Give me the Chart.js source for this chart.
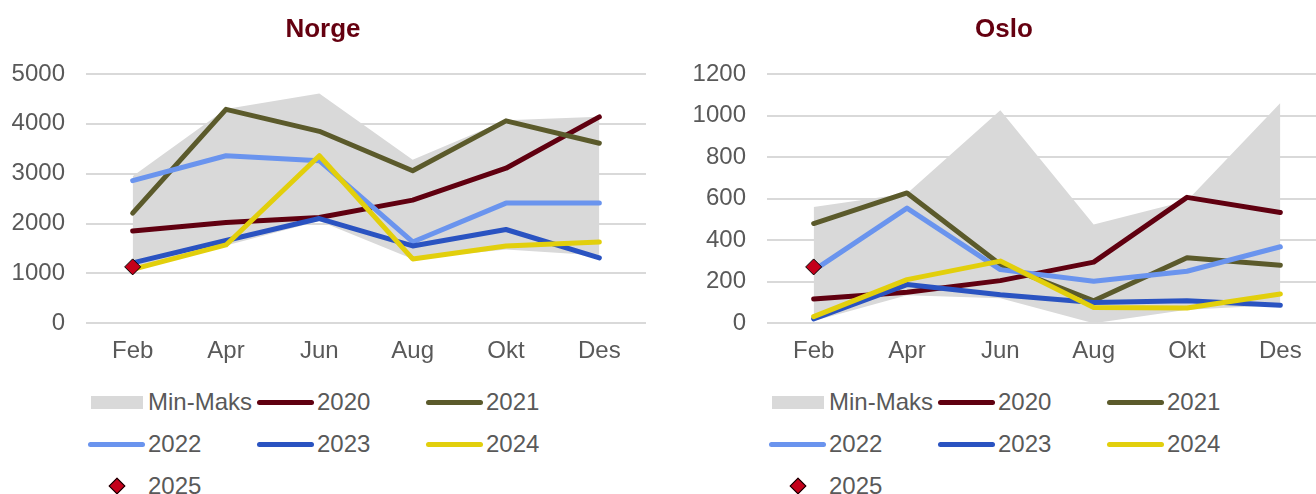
<!DOCTYPE html>
<html>
<head>
<meta charset="utf-8">
<script src="https://cdn.jsdelivr.net/npm/chart.js@4"></script>
<style>
  html, body { margin: 0; padding: 0; background: #fff; }
  body { width: 1316px; height: 494px; overflow: hidden; position: relative; font-family: "Liberation Sans", Arial, sans-serif; }
  .panel { position: absolute; top: 0; width: 674px; height: 494px; }
  .panel canvas { position: absolute; left: 0; top: 0; }
  .legend { position: absolute; left: 88px; top: 381px; width: 510px; display: grid; grid-template-columns: 169px 169px 169px; grid-auto-rows: 42px; }
  .item { display: flex; align-items: center; color: #595959; font-size: 24px; white-space: nowrap; }
  .sw { width: 60px; height: 20px; position: relative; flex: none; }
  .sw .line { position: absolute; left: 0; top: 8px; width: 57px; height: 5px; border-radius: 3px; }
  .sw .box { position: absolute; left: 3px; top: 4px; width: 52px; height: 13px; }
  .sw .dia { position: absolute; left: 23px; top: 4px; width: 10px; height: 10px; transform: rotate(45deg); border: 1px solid #000; }
</style>
</head>
<body>
<div class="panel" id="p-norge" style="left:0"><canvas id="c-norge" width="674" height="380"></canvas><div class="legend" id="l-norge"></div></div>
<div class="panel" id="p-oslo" style="left:681px"><canvas id="c-oslo" width="674" height="380"></canvas><div class="legend" id="l-oslo"></div></div>
<script>
Chart.defaults.font.family = "'Liberation Sans', Arial, sans-serif";
Chart.defaults.color = "#595959";

const months = ["Feb", "Apr", "Jun", "Aug", "Okt", "Des"];
const years = ["2020", "2021", "2022", "2023", "2024"];

// Norge
const norgeMin = [1100, 1560, 2050, 1290, 1480, 1360];
const norgeMax = [2950, 4300, 4610, 3280, 4070, 4140];
const norge2020 = [1850, 2020, 2120, 2470, 3110, 4140];
const norge2021 = [2210, 4290, 3850, 3060, 4060, 3610];
const norge2022 = [2860, 3360, 3260, 1630, 2410, 2410];
const norge2023 = [1210, 1660, 2100, 1550, 1880, 1310];
const norge2024 = [1080, 1570, 3360, 1290, 1550, 1630];
const norge2025 = [1130, null, null, null, null, null];
const norgeTicks = { max: 5000, step: 1000 };

// Oslo
const osloMin = [10, 135, 120, 0, 65, 88];
const osloMax = [560, 625, 1025, 475, 590, 1060];
const oslo2020 = [116, 149, 205, 294, 606, 533];
const oslo2021 = [480, 627, 283, 108, 315, 279];
const oslo2022 = [254, 554, 258, 202, 250, 368];
const oslo2023 = [21, 186, 137, 100, 108, 86];
const oslo2024 = [32, 210, 299, 76, 73, 141];
const oslo2025 = [271, null, null, null, null, null];
const osloTicks = { max: 1200, step: 200 };

const yearColors = ["#600010", "#5b5a2b", "#6a94ee", "#2a53c1", "#e2cf0c"];
const fillColor = "#d9d9d9";
const markerColor = "#c4001a";

function makeChart(canvasId, legendId, title, minArr, maxArr, series, last, ticks) {
  const datasets = [
    { label: "Min-Maks", data: maxArr, fill: "+1", backgroundColor: fillColor, borderWidth: 0, pointRadius: 0, order: 20 },
    { label: "min", data: minArr, fill: false, borderWidth: 0, pointRadius: 0, order: 21 },
  ];
  series.forEach((d, i) => {
    datasets.push({
      label: years[i], data: d, borderColor: yearColors[i], backgroundColor: yearColors[i],
      borderWidth: 5, pointRadius: 0, tension: 0, borderCapStyle: "round", borderJoinStyle: "round",
      fill: false, order: 10 - i,
    });
  });
  datasets.push({
    label: "2025", data: last, showLine: false, pointStyle: "rectRot", pointRadius: 8,
    pointBackgroundColor: markerColor, pointBorderColor: "#000", pointBorderWidth: 1, order: 0,
  });

  new Chart(document.getElementById(canvasId), {
    type: "line",
    data: { labels: months, datasets },
    options: {
      responsive: false,
      animation: false,
      layout: { padding: { left: 0, right: 28, top: 0, bottom: 0 } },
      plugins: {
        legend: { display: false },
        tooltip: { enabled: false },
        filler: { drawTime: "beforeDatasetsDraw" },
        title: {
          display: true, text: title, color: "#650010",
          font: { size: 26, weight: "bold" }, padding: { top: 14, bottom: 28.8 },
        },
      },
      scales: {
        x: {
          offset: true,
          grid: { display: false, drawTicks: false },
          border: { display: false },
          ticks: { font: { size: 24 }, padding: 14, color: "#595959" },
        },
        y: {
          min: 0, max: ticks.max,
          grid: { color: "#d9d9d9", lineWidth: 2, drawTicks: false },
          border: { display: false },
          ticks: { stepSize: ticks.step, font: { size: 24 }, padding: 21, color: "#595959",
            callback: (v) => String(v) },
          afterFit: (scale) => { scale.width = 86; },
        },
      },
    },
  });

  // HTML legend built from the same labels/colours
  const leg = document.getElementById(legendId);
  const entries = [{ label: "Min-Maks", kind: "box", color: fillColor }]
    .concat(years.map((y, i) => ({ label: y, kind: "line", color: yearColors[i] })))
    .concat([{ label: "2025", kind: "dia", color: markerColor }]);
  entries.forEach((e) => {
    const item = document.createElement("div");
    item.className = "item";
    const sw = document.createElement("div");
    sw.className = "sw";
    const mark = document.createElement("div");
    mark.className = e.kind;
    mark.style.background = e.color;
    sw.appendChild(mark);
    const txt = document.createElement("span");
    txt.textContent = e.label;
    item.appendChild(sw);
    item.appendChild(txt);
    leg.appendChild(item);
  });
}

makeChart("c-norge", "l-norge", "Norge", norgeMin, norgeMax,
  [norge2020, norge2021, norge2022, norge2023, norge2024], norge2025, norgeTicks);
makeChart("c-oslo", "l-oslo", "Oslo", osloMin, osloMax,
  [oslo2020, oslo2021, oslo2022, oslo2023, oslo2024], oslo2025, osloTicks);
</script>
</body>
</html>
